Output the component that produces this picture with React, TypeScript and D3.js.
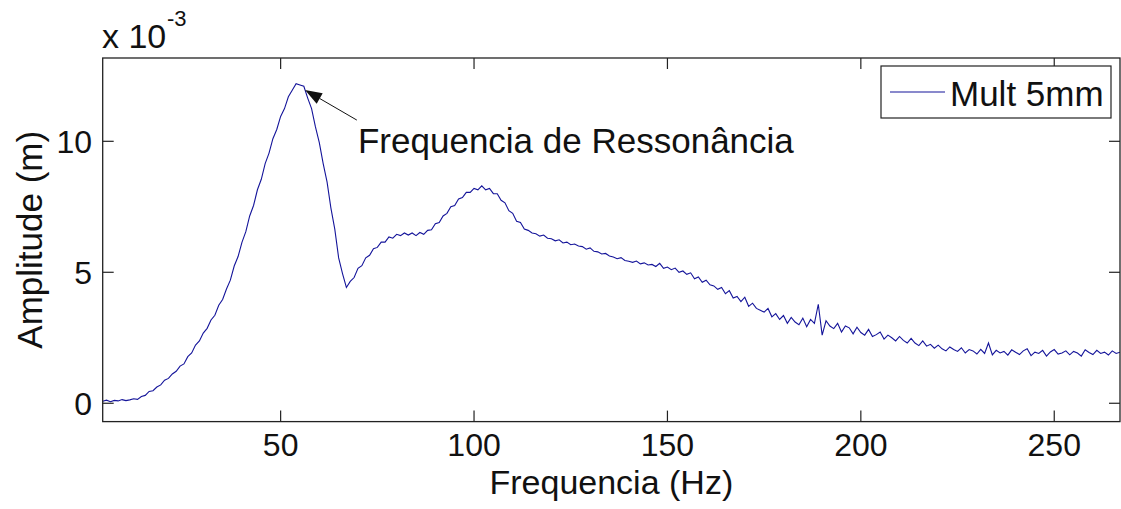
import React from "react";
import * as d3 from "d3";

// Frequency (Hz) and amplitude (x 1e-3 m)
const frequencies: number[] = [
  4, 5, 6, 7, 8, 9, 10, 11, 12, 13,
  14, 15, 16, 17, 18, 19, 20, 21, 22, 23,
  24, 25, 26, 27, 28, 29, 30, 31, 32, 33,
  34, 35, 36, 37, 38, 39, 40, 41, 42, 43,
  44, 45, 46, 47, 48, 49, 50, 51, 52, 53,
  54, 55, 56, 57, 58, 59, 60, 61, 62, 63,
  64, 65, 66, 67, 68, 69, 70, 71, 72, 73,
  74, 75, 76, 77, 78, 79, 80, 81, 82, 83,
  84, 85, 86, 87, 88, 89, 90, 91, 92, 93,
  94, 95, 96, 97, 98, 99, 100, 101, 102, 103,
  104, 105, 106, 107, 108, 109, 110, 111, 112, 113,
  114, 115, 116, 117, 118, 119, 120, 121, 122, 123,
  124, 125, 126, 127, 128, 129, 130, 131, 132, 133,
  134, 135, 136, 137, 138, 139, 140, 141, 142, 143,
  144, 145, 146, 147, 148, 149, 150, 151, 152, 153,
  154, 155, 156, 157, 158, 159, 160, 161, 162, 163,
  164, 165, 166, 167, 168, 169, 170, 171, 172, 173,
  174, 175, 176, 177, 178, 179, 180, 181, 182, 183,
  184, 185, 186, 187, 188, 189, 190, 191, 192, 193,
  194, 195, 196, 197, 198, 199, 200, 201, 202, 203,
  204, 205, 206, 207, 208, 209, 210, 211, 212, 213,
  214, 215, 216, 217, 218, 219, 220, 221, 222, 223,
  224, 225, 226, 227, 228, 229, 230, 231, 232, 233,
  234, 235, 236, 237, 238, 239, 240, 241, 242, 243,
  244, 245, 246, 247, 248, 249, 250, 251, 252, 253,
  254, 255, 256, 257, 258, 259, 260, 261, 262, 263,
  264, 265, 266, 267,
];

const amplitudes: number[] = [
  0.08, 0.12, 0.06, 0.11, 0.09, 0.14, 0.1, 0.13, 0.17, 0.15,
  0.26, 0.3, 0.45, 0.48, 0.62, 0.7, 0.88, 0.95, 1.12, 1.22,
  1.42, 1.5, 1.78, 1.92, 2.22, 2.38, 2.68, 2.86, 3.18, 3.36,
  3.74, 3.96, 4.36, 4.7, 5.24, 5.6, 6.14, 6.55, 7.15, 7.55,
  8.15, 8.55, 9.15, 9.55, 10.1, 10.45, 10.95, 11.25, 11.7, 11.95,
  12.2, 12.15, 12.1, 11.65, 11.25, 10.55, 9.95, 9.15, 8.45, 7.45,
  6.65, 5.55, 4.95, 4.42, 4.65, 4.8, 5.15, 5.25, 5.55, 5.65,
  5.9, 5.95, 6.15, 6.15, 6.35, 6.3, 6.45, 6.4, 6.5, 6.42,
  6.5, 6.4, 6.52, 6.45, 6.6, 6.62, 6.85, 6.9, 7.15, 7.25,
  7.5, 7.55, 7.8, 7.85, 8.05, 8.05, 8.2, 8.15, 8.3, 8.15,
  8.2, 8.0, 8.0, 7.75, 7.65, 7.35, 7.25, 6.95, 6.9, 6.65,
  6.6, 6.5, 6.47, 6.38, 6.42, 6.3, 6.28, 6.2, 6.24, 6.12,
  6.15, 6.05, 6.08, 6.0, 5.98, 5.88, 5.93, 5.8, 5.78, 5.7,
  5.72, 5.62, 5.58, 5.52, 5.56, 5.45, 5.42, 5.38, 5.43, 5.32,
  5.36, 5.28, 5.3, 5.22, 5.34, 5.15, 5.2, 5.1, 5.16, 5.0,
  5.05, 4.92, 4.98, 4.75, 4.82, 4.62, 4.7, 4.52, 4.48, 4.35,
  4.42, 4.18, 4.3, 4.02, 4.08, 3.88, 4.05, 3.7, 3.82, 3.62,
  3.55, 3.48, 3.62, 3.3, 3.42, 3.2, 3.35, 3.05, 3.28, 3.1,
  3.0, 3.25, 2.92, 3.2, 3.05, 3.78, 2.6, 3.15, 2.95, 2.85,
  3.05, 2.72, 2.95, 2.88, 2.65, 2.9, 2.7, 2.6, 2.82, 2.55,
  2.62, 2.72, 2.45, 2.6, 2.5, 2.38, 2.55, 2.4, 2.3, 2.48,
  2.3, 2.2, 2.38, 2.18, 2.25, 2.1, 2.22, 2.08, 2.0, 2.15,
  2.05, 1.98, 2.12, 1.92, 2.05, 2.0, 1.88, 2.06, 1.9, 2.3,
  1.85, 2.02, 1.92, 1.98, 1.84, 2.04, 1.95, 1.86, 2.0, 2.08,
  1.82, 1.95, 1.9, 2.02, 1.8, 1.96, 2.05, 1.88, 1.92, 2.0,
  1.85, 1.98, 1.92, 1.8, 2.04, 1.94, 1.86, 2.02, 1.9, 1.95,
  1.84, 2.0, 1.9, 1.95,
];

const xTicks: number[] = [50, 100, 150, 200, 250];
const yTicks: number[] = [0, 5, 10];
const xDomain: [number, number] = [4, 267];
const yDomain: [number, number] = [-0.7, 13.18];

const seriesName = "Mult 5mm";
const xLabel = "Frequencia (Hz)";
const yLabel = "Amplitude (m)";
const annotationText = "Frequencia de Ressonância";
// annotation in data coordinates: arrow tip, arrow tail, text anchor
const annotationTip: [number, number] = [56.3, 11.96];
const annotationTail: [number, number] = [69.7, 10.81];
const annotationTextAt: [number, number] = [70, 9.55];

const W = 1121;
const H = 509;
const M = { left: 102.7, right: 1120, top: 58, bottom: 421.6 };
const FONT = "Arial, 'Liberation Sans', Helvetica, sans-serif";
const LINE_COLOR = "#14149a";
const TICK = 11;

export default function App() {
  const x = d3.scaleLinear().domain(xDomain).range([M.left, M.right]);
  const y = d3.scaleLinear().domain(yDomain).range([M.bottom, M.top]);
  const data = frequencies.map((f, i) => [f, amplitudes[i]] as [number, number]);
  const line = d3
    .line<[number, number]>()
    .x((d) => x(d[0]))
    .y((d) => y(d[1]));

  const tip = [x(annotationTip[0]), y(annotationTip[1])];
  const tail = [x(annotationTail[0]), y(annotationTail[1])];
  const dx = tail[0] - tip[0];
  const dy = tail[1] - tip[1];
  const len = Math.hypot(dx, dy);
  const ux = dx / len;
  const uy = dy / len;
  const headLen = 17;
  const headW = 6;
  const bx = tip[0] + ux * headLen;
  const by = tip[1] + uy * headLen;
  const head = [
    [tip[0], tip[1]],
    [bx - uy * headW, by + ux * headW],
    [bx + uy * headW, by - ux * headW],
  ]
    .map((p) => p.join(","))
    .join(" ");

  const legend = { x0: 881, y0: 66, x1: 1111, y1: 118 };

  return (
    <svg
      width={W}
      height={H}
      style={{ position: "absolute", left: 0, top: 0, background: "#fff" }}
      fontFamily={FONT}
    >
      <rect x={0} y={0} width={W} height={H} fill="#fff" />
      <defs>
        <clipPath id="plotclip">
          <rect x={M.left} y={M.top} width={M.right - M.left} height={M.bottom - M.top} />
        </clipPath>
      </defs>

      <path
        d={line(data) || ""}
        fill="none"
        stroke={LINE_COLOR}
        strokeWidth={1.1}
        clipPath="url(#plotclip)"
      />

      {/* axes box */}
      <rect
        x={M.left}
        y={M.top}
        width={M.right - M.left}
        height={M.bottom - M.top}
        fill="none"
        stroke="#222"
        strokeWidth={1.3}
      />

      {/* x ticks */}
      {xTicks.map((t) => (
        <g key={"xt" + t}>
          <line x1={x(t)} x2={x(t)} y1={M.bottom} y2={M.bottom - TICK} stroke="#222" strokeWidth={1.2} />
          <line x1={x(t)} x2={x(t)} y1={M.top} y2={M.top + TICK} stroke="#222" strokeWidth={1.2} />
          <text x={x(t)} y={456} textAnchor="middle" fontSize={32} fill="#111">
            {t}
          </text>
        </g>
      ))}

      {/* y ticks */}
      {yTicks.map((t) => (
        <g key={"yt" + t}>
          <line x1={M.left} x2={M.left + TICK} y1={y(t)} y2={y(t)} stroke="#222" strokeWidth={1.2} />
          <line x1={M.right} x2={M.right - TICK} y1={y(t)} y2={y(t)} stroke="#222" strokeWidth={1.2} />
          <text x={92} y={y(t)} dy="0.36em" textAnchor="end" fontSize={32} fill="#111">
            {t}
          </text>
        </g>
      ))}

      {/* exponent */}
      <text x={102} y={48} fontSize={34} fill="#111">
        x 10
      </text>
      <text x={167} y={26} fontSize={22} fill="#111">
        -3
      </text>

      {/* axis labels */}
      <text x={(M.left + M.right) / 2} y={494} textAnchor="middle" fontSize={34} fill="#111">
        {xLabel}
      </text>
      <text
        transform={`translate(42, ${(M.top + M.bottom) / 2}) rotate(-90)`}
        textAnchor="middle"
        fontSize={35}
        fill="#111"
      >
        {yLabel}
      </text>

      {/* annotation */}
      <line x1={tail[0]} y1={tail[1]} x2={bx} y2={by} stroke="#111" strokeWidth={1} />
      <polygon points={head} fill="#111" />
      <text x={x(annotationTextAt[0])} y={y(annotationTextAt[1])} fontSize={35} fill="#111">
        {annotationText}
      </text>

      {/* legend */}
      <rect
        x={legend.x0}
        y={legend.y0}
        width={legend.x1 - legend.x0}
        height={legend.y1 - legend.y0}
        fill="#fff"
        stroke="#222"
        strokeWidth={1.2}
      />
      <line x1={890} x2={945} y1={92} y2={92} stroke={LINE_COLOR} strokeWidth={1.1} />
      <text x={950} y={106} fontSize={35} fill="#111">
        {seriesName}
      </text>
    </svg>
  );
}
